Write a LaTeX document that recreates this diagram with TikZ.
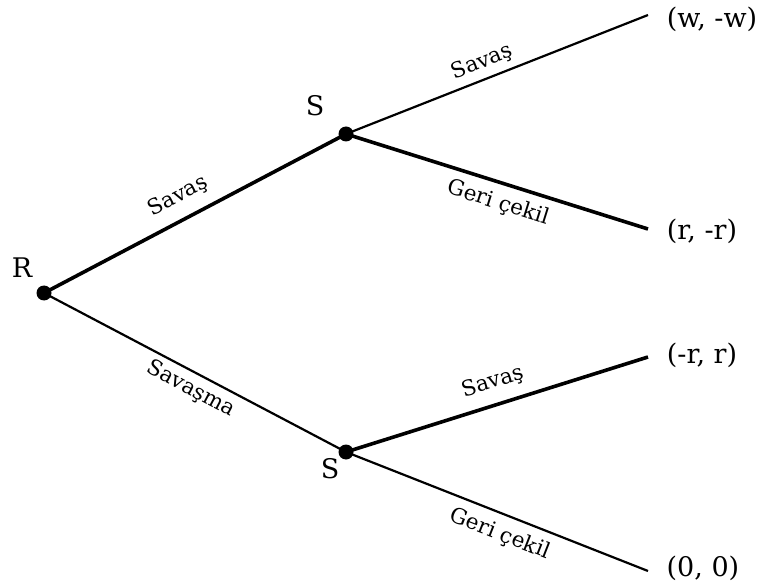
\documentclass[tikz,border=0pt]{standalone}
\usepackage{fontspec}
\setmainfont{DejaVu Serif}
\begin{document}
\begin{tikzpicture}[x=1pt,y=-1pt,
  dot/.style={circle,fill=black,inner sep=0pt,minimum size=15pt},
  thinedge/.style={line width=2.2pt},
  thickedge/.style={line width=3.6pt},
  pay/.style={font=\fontsize{27}{30}\selectfont,inner sep=0pt},
  player/.style={font=\fontsize{27}{30}\selectfont,inner sep=0pt},
  elab/.style={font=\fontsize{21.5}{24}\selectfont,inner sep=0pt}]
\useasboundingbox (0,0) rectangle (760,585);
\node[dot] (R) at (44,293) {};
\node[dot] (S1) at (346,134) {};
\node[dot] (S2) at (346,452) {};
\coordinate (T1) at (648,15);
\coordinate (T2) at (648,229);
\coordinate (T3) at (648,357);
\coordinate (T4) at (648,571);
\draw[thickedge] (R.center) -- (S1.center);
\draw[thinedge] (R.center) -- (S2.center);
\draw[thinedge] (S1.center) -- (T1);
\draw[thickedge] (S1.center) -- (T2);
\draw[thickedge] (S2.center) -- (T3);
\draw[thinedge] (S2.center) -- (T4);
\node[player] (lR) at (22,268) {R};
\node[player] (lS1) at (315,106) {S};
\node[player] (lS2) at (330,469) {S};
\node[pay] (p1) at (712,19) {(w, -w)};
\node[pay] (p2) at (702,231) {(r, -r)};
\node[pay] (p3) at (702,355) {(-r, r)};
\node[pay] (p4) at (703,568) {(0, 0)};
\node[elab,rotate=27.8] (e1) at (178,196) {Savaş};
\node[elab,rotate=-27.8] (e2) at (191,389) {Savaşma};
\node[elab,rotate=21.5] (e3) at (482,62) {Savaş};
\node[elab,rotate=-17.5] (e4) at (498,203) {Geri çekil};
\node[elab,rotate=17.5] (e5) at (493,382) {Savaş};
\node[elab,rotate=-21.5] (e6) at (500,534) {Geri çekil};
\end{tikzpicture}
\end{document}
